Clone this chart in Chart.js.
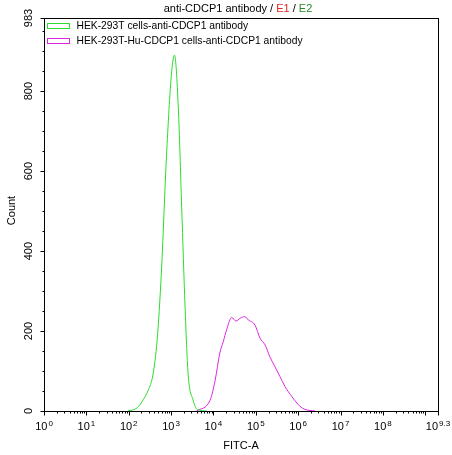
<!DOCTYPE html>
<html>
<head>
<meta charset="utf-8">
<script src="https://cdn.jsdelivr.net/npm/chart.js@4.4.1/dist/chart.umd.min.js"></script>
<style>
  html, body { margin: 0; padding: 0; background: #fff; }
  #wrap { width: 452px; height: 455px; }
</style>
</head>
<body>
<div id="wrap"><canvas id="histo"></canvas></div>
<script>
// --- data (FITC-A as log10 exponent, Count) ---
const greenLabel = 'HEK-293T cells-anti-CDCP1 antibody';
const greenExp = [1.98, 2.20, 2.34, 2.46, 2.57, 2.67, 2.77, 2.89, 3.01, 3.08, 3.17, 3.25, 3.33, 3.40, 3.52, 3.62, 3.84];
const greenCount = [0, 8, 28, 52, 90, 177, 345, 635, 845, 890, 760, 510, 260, 95, 27, 4, 0];

const magentaLabel = 'HEK-293T-Hu-CDCP1 cells-anti-CDCP1 antibody';
const magentaExp = [3.60, 3.92, 4.04, 4.15, 4.23, 4.31, 4.43, 4.53, 4.63, 4.74, 4.82, 4.98, 5.10, 5.22, 5.33, 5.45, 5.57, 5.69, 5.85, 6.04, 6.16, 6.40];
const magentaCount = [0, 27, 77, 145, 173, 203, 234, 225, 232, 236, 228, 215, 182, 165, 136, 111, 86, 61, 36, 12, 4, 0];

const xTickExp = [0, 1, 2, 3, 4, 5, 6, 7, 8, 9.3];
const yMajorTicks = [0, 200, 400, 600, 800, 983];
const yMax = 983;
const xMaxExp = 9.3;

const FONT = '"Liberation Sans", Arial, sans-serif';
const GREEN = '#2bdc2b';
const MAGENTA = '#dc28dc';

const toPoints = (exps, counts) => exps.map((e, i) => ({ x: Math.pow(10, e), y: counts[i] }));

// axes, frame, legend and titles drawn on top of the chart area
const flowAxes = {
    id: 'flowAxes',
    afterDraw(chart) {
        const { ctx, chartArea: a, scales: { x, y } } = chart;
        const L = Math.round(a.left) + 0.5, R = Math.round(a.right) + 0.5;
        const T = Math.round(a.top) + 0.5, B = Math.round(a.bottom) + 0.5;
        ctx.save();
        ctx.strokeStyle = '#000';
        ctx.lineWidth = 1;
        ctx.strokeRect(L, T, R - L, B - T);

        // x ticks (major decades + minor 2..9)
        ctx.beginPath();
        for (let k = 0; k <= 9; k++) {
            for (let m = 1; m <= 9; m++) {
                const v = m * Math.pow(10, k);
                if (Math.log10(v) > xMaxExp) break;
                const px = Math.round(x.getPixelForValue(v)) + 0.5;
                ctx.moveTo(px, B);
                ctx.lineTo(px, B + (m === 1 ? 4 : 2));
            }
        }
        ctx.moveTo(R, B); ctx.lineTo(R, B + 4);
        // y ticks
        for (let v = 0; v <= yMax; v += 50) {
            const py = Math.round(y.getPixelForValue(v)) + 0.5;
            const major = v % 200 === 0;
            ctx.moveTo(L, py);
            ctx.lineTo(L - (major ? 4 : 2), py);
        }
        const pTop = Math.round(y.getPixelForValue(yMax)) + 0.5;
        ctx.moveTo(L, pTop); ctx.lineTo(L - 4, pTop);
        ctx.stroke();

        ctx.fillStyle = '#000';
        // x tick labels: 10 with superscript exponent
        ctx.textBaseline = 'alphabetic';
        xTickExp.forEach(e => {
            const px = x.getPixelForValue(Math.pow(10, e));
            ctx.font = '11px ' + FONT;
            const wBase = ctx.measureText('10').width;
            ctx.font = '8px ' + FONT;
            const sup = String(e);
            const wSup = ctx.measureText(sup).width;
            const start = px - (wBase + 1 + wSup) / 2;
            ctx.font = '11px ' + FONT;
            ctx.textAlign = 'left';
            ctx.fillText('10', start, 430);
            ctx.font = '8px ' + FONT;
            ctx.fillText(sup, start + wBase + 1, 426);
        });

        // y tick labels, rotated
        ctx.font = '11px ' + FONT;
        ctx.textAlign = 'center';
        ctx.textBaseline = 'middle';
        yMajorTicks.forEach(v => {
            const py = y.getPixelForValue(v);
            ctx.save();
            ctx.translate(29, py);
            ctx.rotate(-Math.PI / 2);
            ctx.fillText(String(v), 0, 0);
            ctx.restore();
        });

        // axis titles
        ctx.font = '11px ' + FONT;
        ctx.save();
        ctx.translate(12, (a.top + a.bottom) / 2 - 4);
        ctx.rotate(-Math.PI / 2);
        ctx.fillText('Count', 0, 0);
        ctx.restore();
        ctx.fillText('FITC-A', (a.left + a.right) / 2, 446);

        // chart title with coloured parts
        const parts = [['anti-CDCP1 antibody / ', '#000'], ['E1', '#e02424'], [' / ', '#000'], ['E2', '#2a8a2a']];
        ctx.font = '11px ' + FONT;
        const total = parts.reduce((s, p) => s + ctx.measureText(p[0]).width, 0);
        let tx = 238 - total / 2;
        ctx.textAlign = 'left';
        parts.forEach(([t, c]) => {
            ctx.fillStyle = c;
            ctx.fillText(t, tx, 9);
            tx += ctx.measureText(t).width;
        });

        // legend inside plot, outlined boxes
        ctx.font = '10.3px ' + FONT;
        ctx.textBaseline = 'middle';
        chart.data.datasets.forEach((ds, i) => {
            const by = T + 5 + i * 15;
            ctx.strokeStyle = ds.borderColor;
            ctx.strokeRect(L + 3, by, 22, 5);
            ctx.fillStyle = '#000';
            ctx.fillText(ds.label, L + 32, by + 3);
        });
        ctx.restore();
    }
};

new Chart(document.getElementById('histo'), {
    type: 'line',
    data: {
        datasets: [
            { label: greenLabel, data: toPoints(greenExp, greenCount), borderColor: GREEN },
            { label: magentaLabel, data: toPoints(magentaExp, magentaCount), borderColor: MAGENTA }
        ]
    },
    options: {
        responsive: true,
        maintainAspectRatio: false,
        animation: false,
        layout: { padding: { left: 44, right: 14, top: 18, bottom: 44 } },
        elements: {
            line: { borderWidth: 1, tension: 0.35, cubicInterpolationMode: 'monotone', fill: false },
            point: { radius: 0 }
        },
        plugins: { legend: { display: false }, tooltip: { enabled: false } },
        scales: {
            x: { type: 'logarithmic', display: false, min: 1, max: Math.pow(10, xMaxExp) },
            y: { type: 'linear', display: false, min: 0, max: yMax }
        }
    },
    plugins: [flowAxes]
});
</script>
</body>
</html>
